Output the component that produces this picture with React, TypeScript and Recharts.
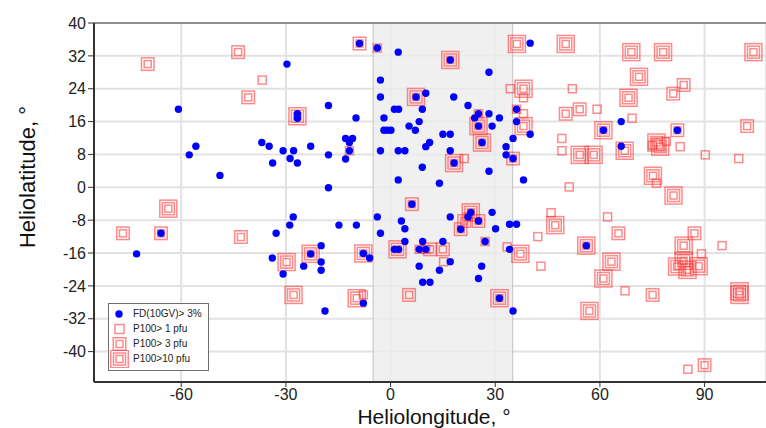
import { ScatterChart, Scatter, XAxis, YAxis, CartesianGrid, ReferenceArea, ReferenceLine, Legend } from "recharts";

// Forbush decreases and proton events, heliolongitude / heliolatitude in degrees
const seriesNames = ["FD(10GV)> 3%", "P100> 1 pfu", "P100> 3 pfu", "P100>10 pfu"];

const fdPoints: [number, number][] = [
    [-60.8, 19.0], [-57.7, 7.9], [-55.8, 10.0], [-48.9, 2.9], [-65.8, -11.2], [-72.8, -16.2],
    [-29.7, 30.0], [-17.8, 19.9], [-26.7, 17.9], [-26.7, 16.8],
    [-36.9, 10.9], [-34.8, 10.0], [-30.8, 8.9], [-27.8, 8.9], [-22.9, 10.0], [-17.8, 7.9],
    [-33.8, 5.9], [-28.8, 7.0], [-26.7, 5.9],
    [-12.9, 11.9], [-10.9, 11.9], [-11.8, 10.9], [-11.8, 8.9], [-12.9, 6.9], [-9.9, 16.9], [-17.8, -0.1],
    [-27.9, -7.2], [-28.9, -9.2], [-32.8, -11.2], [-14.8, -9.2], [-9.8, -9.2], [-19.9, -14.2],
    [-22.9, -16.2], [-33.9, -17.2], [-19.9, -18.2], [-24.9, -19.2], [-19.9, -20.2], [-30.8, -21.1],
    [-18.8, -30.1], [-7.8, -16.1], [-6.0, -17.2], [-7.8, -28.2], [-8.9, 35.0],
    [-3.8, 33.9], [2.2, 32.9], [17.1, 31.0], [28.2, 28.0], [-2.9, 26.1], [-2.9, 22.0], [7.3, 22.0],
    [10.1, 22.9], [18.1, 22.0], [1.1, 19.0], [2.3, 19.0], [9.1, 19.0], [22.2, 19.9], [25.2, 17.9],
    [28.2, 17.9], [31.2, 16.9], [-1.9, 16.9], [5.3, 14.9], [8.2, 16.0], [7.1, 13.9], [-1.9, 13.9],
    [-1.0, 13.9], [0.1, 13.9], [24.1, 16.9], [25.2, 14.9], [29.1, 14.9], [15.0, 12.9], [17.1, 12.9],
    [26.2, 10.9], [10.1, 9.9], [11.2, 10.9], [33.1, 9.9], [33.1, 7.9], [-2.9, 8.9], [2.2, 8.9],
    [4.1, 8.9], [17.1, 8.9], [18.2, 5.9], [9.1, 4.9], [28.2, 3.9], [2.2, 1.8], [14.0, 1.0],
    [36.1, 19.0], [36.1, 16.0], [35.1, 11.9], [35.1, 7.0],
    [6.1, -4.1], [23.0, -6.1], [17.1, -7.2], [29.1, -6.1], [-3.8, -7.2], [3.1, -8.2], [22.2, -7.2],
    [25.2, -8.2], [20.1, -10.2], [30.1, -10.1], [34.1, -9.0], [36.1, -9.0], [-2.9, -11.2], [4.1, -10.1],
    [4.1, -13.2], [9.2, -13.2], [15.0, -13.2], [27.1, -13.2], [1.1, -15.1], [2.3, -15.1], [8.2, -15.1],
    [10.1, -15.1], [17.1, -18.1], [8.2, -19.2], [14.0, -20.2], [26.1, -19.2], [25.2, -22.2], [9.2, -23.1],
    [11.3, -23.1], [31.2, -27.0], [34.1, -15.1], [35.1, -30.1],
    [40.0, 35.1], [40.0, 12.9], [38.1, 1.8], [61.0, 13.9], [66.1, 16.0], [82.2, 13.9], [66.1, 10.0], [56.1, -14.2],
];

const p1Points: [number, number][] = [
    [-36.8, 26.1], [-3.8, 33.9], [-11.8, 8.9], [25.2, 17.9], [36.1, 19.0], [34.3, 24.0], [38.1, 21.8],
    [52.1, 24.0], [59.2, 19.0], [38.1, 17.9], [69.2, 16.8], [49.1, 11.9], [49.1, 8.9], [83.0, 9.9],
    [90.2, 7.9], [99.8, 7.0], [76.2, 1.0], [51.2, 0.1], [21.1, 7.0], [46.0, -6.2], [62.2, -7.2],
    [42.2, -12.0], [33.4, -14.5], [89.1, -16.2], [95.0, -14.2], [43.1, -19.2], [67.2, -25.2],
    [85.2, -44.3], [27.1, -13.2], [8.2, -15.1], [10.1, -15.1], [15.2, -18.1], [-7.8, -26.2],
    [22.2, -7.2], [75.0, 10.2], [79.0, 11.2],
];

const p3Points: [number, number][] = [
    [-43.7, 32.9], [-69.6, 30.0], [-40.8, 21.9], [-8.9, 35.0], [-76.7, -11.2], [-65.8, -11.2],
    [-42.9, -12.1], [6.1, -4.1], [5.3, -26.2], [11.3, -15.1], [15.0, -15.1], [20.1, -10.2],
    [21.1, -8.2], [25.2, -8.2], [35.1, 7.0], [84.0, 24.9], [81.0, 22.8], [54.2, 19.0], [50.2, 17.9],
    [82.2, 13.9], [102.2, 14.9], [65.3, -11.2], [87.1, -11.2], [75.1, -26.2], [90.0, -43.3],
];

const p10Points: [number, number][] = [
    [17.1, 31.0], [7.3, 22.0], [25.2, 14.9], [26.2, 10.9], [18.2, 5.9], [-26.7, 17.3], [-63.7, -5.2],
    [-22.9, -16.2], [-29.8, -18.2], [-27.8, -26.2], [-7.8, -16.1], [-9.7, -27.0], [2.0, -15.1],
    [23.0, -6.1], [31.2, -27.0], [36.2, 34.9], [50.2, 34.9], [69.0, 32.9], [78.1, 32.9], [104.0, 32.9],
    [71.2, 26.9], [68.2, 21.8], [38.1, 24.0], [38.1, 14.9], [61.0, 13.9], [54.2, 7.9], [58.2, 7.9],
    [67.1, 8.9], [76.2, 10.9], [77.3, 9.9], [75.2, 2.8], [81.1, -2.0], [47.2, -9.2], [37.2, -16.2],
    [56.1, -14.2], [63.3, -18.1], [61.0, -22.2], [57.0, -30.1], [84.0, -14.2], [84.0, -17.9],
    [82.1, -19.3], [85.1, -20.1], [88.3, -19.2], [100.0, -25.3], [100.0, -26.2],
];

const xTicks = [-60, -30, 0, 30, 60, 90];
const xMinorTicks = [-80, -70, -50, -40, -20, -10, 10, 20, 40, 50, 70, 80, 100];
const yTicks = [-40, -32, -24, -16, -8, 0, 8, 16, 24, 32, 40];
const yMinorTicks = [-44, -36, -28, -20, -12, -4, 4, 12, 20, 28, 36];
const band = [-5, 35];

const toRows = (pts: [number, number][]) => pts.map(([lon, lat]) => ({ lon, lat }));

const FONT = "'Liberation Sans', Arial, sans-serif";
const RED = "#ff2a2a";

const ringSizes = [[8], [7, 12.5], [7, 12, 17]];

function Squares({ cx, cy, sizes }: { cx: number; cy: number; sizes: number[] }) {
    return (
        <g>
            {sizes.map((s) => (
                <rect key={s} x={cx - s / 2} y={cy - s / 2} width={s} height={s}
                    fill="none" stroke={RED} strokeOpacity={0.55} strokeWidth={1.5} />
            ))}
        </g>
    );
}

const squareShape = (level: number) => (props: any) =>
    <Squares cx={props.cx} cy={props.cy} sizes={ringSizes[level]} />;

const dotShape = (props: any) => <circle cx={props.cx} cy={props.cy} r={3.7} fill="#0000ff" />;

function LegendBox() {
    return (
        <div style={{
            width: 99, height: 64, border: "1px solid #6e6e6e", background: "#fff",
            fontFamily: FONT, fontSize: 10, color: "#222", boxSizing: "content-box", paddingTop: 2,
        }}>
            {seriesNames.map((name, i) => (
                <div key={name} style={{ display: "flex", alignItems: "center", height: 15 }}>
                    <svg width={22} height={18} style={{ marginLeft: 0, marginRight: 2 }}>
                        {i === 0
                            ? <circle cx={10} cy={9} r={3.7} fill="#0000ff" />
                            : <Squares cx={10.5} cy={9} sizes={i === 1 ? [9] : i === 2 ? [7, 12.5] : [7, 12, 17.5]} />}
                    </svg>
                    <span>{name}</span>
                </div>
            ))}
        </div>
    );
}

export default function App() {
    return (
        <div style={{ position: "absolute", left: 0, top: 0, width: 766, height: 428, overflow: "hidden", background: "#fff", fontFamily: FONT }}>
            <ScatterChart width={766} height={428} margin={{ top: 23, right: 0, bottom: 0, left: 0 }}>
                <CartesianGrid stroke="#e2e2e2" strokeWidth={2} />
                <XAxis xAxisId="minor" type="number" dataKey="lon" orientation="bottom" height={0}
                    domain={[-85, 107.6]} allowDataOverflow ticks={xMinorTicks} tick={false}
                    axisLine={false} tickLine={{ stroke: "#444" }} tickSize={3} />
                <XAxis type="number" dataKey="lon" domain={[-85, 107.6]} allowDataOverflow height={46}
                    ticks={xTicks} interval={0} tickSize={5} tickMargin={2}
                    axisLine={{ stroke: "#333", strokeWidth: 2 }} tickLine={{ stroke: "#333" }}
                    tick={{ fill: "#222", fontSize: 16, fontFamily: FONT }}
                    label={(p: any) => (
                        <text x={434} y={423.5} textAnchor="middle" fontSize={21} fontFamily={FONT} fill="#111">
                            Heliolongitude, °
                        </text>
                    )} />
                <YAxis yAxisId="minor" type="number" dataKey="lat" orientation="left" width={0}
                    domain={[-47.4, 40]} allowDataOverflow ticks={yMinorTicks} tick={false}
                    axisLine={false} tickLine={{ stroke: "#444" }} tickSize={3} />
                <YAxis type="number" dataKey="lat" domain={[-47.4, 40]} allowDataOverflow width={94}
                    ticks={yTicks} interval={0} tickSize={6} tickMargin={2}
                    axisLine={{ stroke: "#333", strokeWidth: 2 }} tickLine={{ stroke: "#333" }}
                    tick={{ fill: "#222", fontSize: 16, fontFamily: FONT }}
                    label={(p: any) => (
                        <text x={35} y={177} transform="rotate(-90, 35, 177)" textAnchor="middle"
                            fontSize={22} fontFamily={FONT} fill="#111">
                            Heliolatitude, °
                        </text>
                    )} />
                <ReferenceArea x1={band[0]} x2={band[1]} fill="#ececec" fillOpacity={0.8}
                    stroke="#c2c2c2" strokeWidth={1} />
                <ReferenceLine y={40} stroke="#8f8f8f" strokeWidth={2} />
                <Legend layout="horizontal" verticalAlign="middle" align="center"
                    wrapperStyle={{ left: 108, top: 303, width: 101, height: 67 }}
                    content={() => <LegendBox />} />
                <Scatter name={seriesNames[1]} data={toRows(p1Points)} shape={squareShape(0)} isAnimationActive={false} />
                <Scatter name={seriesNames[2]} data={toRows(p3Points)} shape={squareShape(1)} isAnimationActive={false} />
                <Scatter name={seriesNames[3]} data={toRows(p10Points)} shape={squareShape(2)} isAnimationActive={false} />
                <Scatter name={seriesNames[0]} data={toRows(fdPoints)} shape={dotShape} isAnimationActive={false} />
            </ScatterChart>
        </div>
    );
}
